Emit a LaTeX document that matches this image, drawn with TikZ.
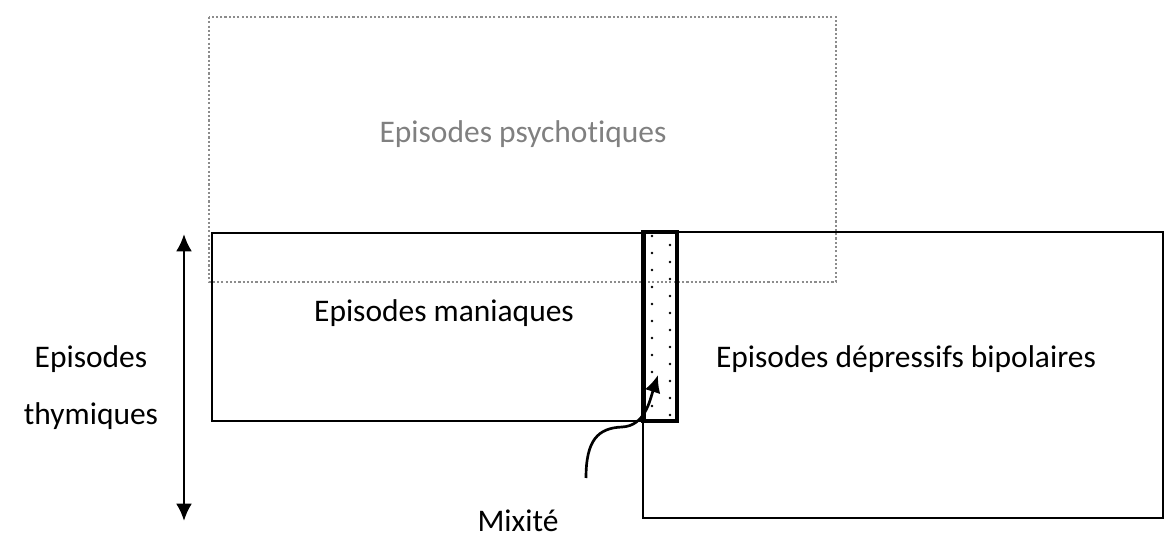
\documentclass[tikz,border=0pt]{standalone}
\usepackage{fontspec}
\setmainfont[Ligatures=NoCommon]{Carlito}
\usepackage{xcolor}
\usetikzlibrary{arrows.meta}
\definecolor{psychotic}{RGB}{128,128,128}
\definecolor{psyborder}{RGB}{140,140,140}
\tikzstyle{box}=[line width=2pt]
\tikzstyle{mixbox}=[line width=3pt]
\tikzstyle{psybox}=[line width=1.6pt, color=psyborder, dash pattern=on 1.6pt off 1.6pt]
\tikzstyle{label}=[anchor=base, inner sep=0pt, font=\fontsize{23.6}{28}\selectfont]
\tikzstyle{arrowline}=[line width=2pt, -{Latex[length=13pt,width=12pt]}]

\begin{document}
\begin{tikzpicture}[x=0.75pt, y=-0.75pt]
  \useasboundingbox (0,0) rectangle (1165,538);

  %% Boxes
  \draw[psybox] (209,17) rectangle (836,282);
  \draw[box] (212,233) rectangle (645,421);
  \draw[box] (643,232) rectangle (1163,518);
  \foreach \i in {0,...,10} {
    \fill (652,236+17*\i) circle (1.1pt);
    \fill (670,245+17*\i) circle (1.1pt);
  }
  \draw[mixbox] (643,232) rectangle (677,421);

  %% Labels
  \draw (523,143) node[label, text=psychotic] (Psy) {Episodes psychotiques};
  \draw (444,322) node[label] (Man) {Episodes maniaques};
  \draw (906,368) node[label] (Dep) {Episodes dépressifs bipolaires};
  \draw (91,368) node[label] (Thy1) {Episodes};
  \draw (91,425) node[label] (Thy2) {thymiques};
  \draw (518,532) node[label] (Mix) {Mixité};

  %% Arrows
  \coordinate (ThyTop) at (184,234);
  \coordinate (ThyBot) at (184,521);
  \draw[arrowline, {Latex[length=13pt,width=12pt]}-{Latex[length=13pt,width=12pt]}] (ThyBot) -- (ThyTop);

  \coordinate (MixStart) at (586,478);
  \coordinate (MixTip) at (658,375);
  \draw[arrowline] (MixStart) .. controls (586,440) and (598,428) .. (622,427)
    .. controls (645,426) and (650,400) .. (MixTip);
\end{tikzpicture}
\end{document}
